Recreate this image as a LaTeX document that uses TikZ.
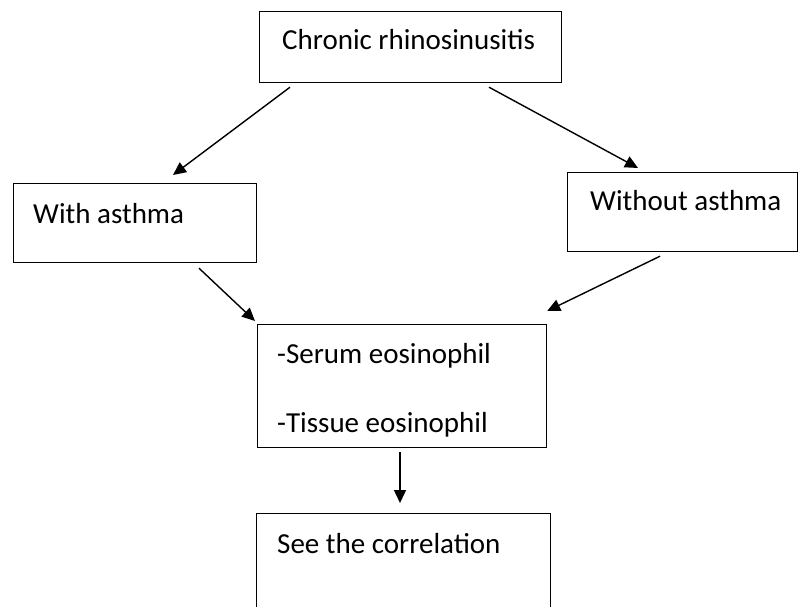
\documentclass[tikz,border=0pt]{standalone}
\usepackage{fontspec}
\setmainfont{Carlito}
\usetikzlibrary{arrows.meta}

\begin{document}
\begin{tikzpicture}[x=1pt, y=-1pt, >={Triangle[length=13pt, width=12pt]},
		box/.style={draw, line width=1.2pt, inner sep=0pt, anchor=north west},
		txt/.style={anchor=base west, inner sep=0pt, font=\fontsize{29}{34}\selectfont},
		arr/.style={line width=1.4pt, ->}]
		\useasboundingbox (0,0) rectangle (805,607);
		\clip (0,0) rectangle (805,607);
		%boxes
			%top
			\node [box, minimum width=302pt, minimum height=71pt] (crs) at (259,11) {};
			\node [txt] (crslabel) at ([shift={(23,39)}]crs.north west) {Chronic rhinosinusitis};
			%left side
			\node [box, minimum width=243pt, minimum height=79pt] (with) at (13,183) {};
			\node [txt] (withlabel) at ([shift={(20,40)}]with.north west) {With asthma};
			%right side
			\node [box, minimum width=230pt, minimum height=79pt] (without) at (567,172) {};
			\node [txt] (withoutlabel) at ([shift={(23,38)}]without.north west) {Without asthma};
			%middle
			\node [box, minimum width=289pt, minimum height=123pt] (eos) at (257,324) {};
			\node [txt] (serum) at ([shift={(20,39)}]eos.north west) {-Serum eosinophil};
			\node [txt] (tissue) at ([shift={(20,108)}]eos.north west) {-Tissue eosinophil};
			%bottom (runs off the page)
			\node [box, minimum width=294pt, minimum height=120pt] (corr) at (256,513) {};
			\node [txt] (corrlabel) at ([shift={(21,40)}]corr.north west) {See the correlation};
		%arrows
			\draw [arr] ([shift={(31,4)}]crs.south west) to ([shift={(160,-8)}]with.north west);
			\draw [arr] ([shift={(230,4)}]crs.south west) to ([shift={(71,-4)}]without.north west);
			\draw [arr] ([shift={(186,5)}]with.south west) to ([shift={(-2,-3)}]eos.north west);
			\draw [arr] ([shift={(93,4)}]without.south west) to ([shift={(0,-13)}]eos.north east);
			\draw [arr] ([shift={(143,4)}]eos.south west) to ([shift={(144,-10)}]corr.north west);
\end{tikzpicture}
\end{document}
